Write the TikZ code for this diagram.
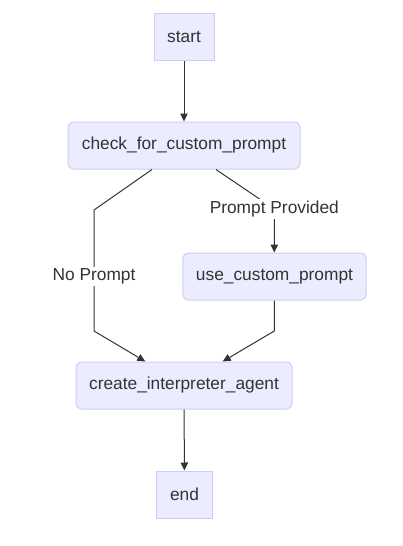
\documentclass[tikz,border=0pt]{standalone}
\usepackage{fontspec}
\setmainfont{Liberation Sans}
\usetikzlibrary{arrows.meta}
\definecolor{boxfill}{HTML}{ECECFF}
\definecolor{boxline}{HTML}{CFCBF7}
\definecolor{inkgrey}{HTML}{333333}
\tikzset{
  state/.style={draw=boxline, fill=boxfill, text=inkgrey, line width=0.75pt,
    minimum height=35.25pt, inner sep=0pt, font=\fontsize{13}{15}\selectfont},
  rstate/.style={state, rounded corners=4pt},
  flow/.style={draw=inkgrey, line width=0.75pt, -{Triangle[length=6pt,width=5.5pt]}},
  cond/.style={fill=white, text=inkgrey, inner sep=1.5pt, font=\fontsize{13}{15}\selectfont}
}
\begin{document}
\begin{tikzpicture}[x=0.75pt,y=-0.75pt]
 \useasboundingbox (0,0) rectangle (403,546);
 % states
 \node[state, minimum width=45pt] (start) at (184,37) {start};
 \node[rstate, minimum width=174pt] (check) at (184,145.5) {check\_for\_custom\_prompt};
 \node[rstate, minimum width=137.5pt] (custom) at (274.5,276.5) {use\_custom\_prompt};
 \node[rstate, minimum width=162pt] (create) at (184,385.5) {create\_interpreter\_agent};
 \node[state, minimum width=41.5pt] (end) at (184.5,494.5) {end};
 % edges
 \draw[flow] (start) -- (check);
 \draw[flow] ([xshift=-24pt]check.south) -- (94,210)
   -- node[cond, pos=0.55] {No Prompt} (94,331) -- ([xshift=-29pt]create.north);
 \draw[flow] ([xshift=24pt]check.south) -- (274.3,209) node[cond] {Prompt Provided}
   -- (custom.north -| 274.3,0);
 \draw[flow] (custom.south -| 274.3,0) -- (274.3,331) -- ([xshift=29pt]create.north);
 \draw[flow] (create) -- (end);
\end{tikzpicture}
\end{document}
